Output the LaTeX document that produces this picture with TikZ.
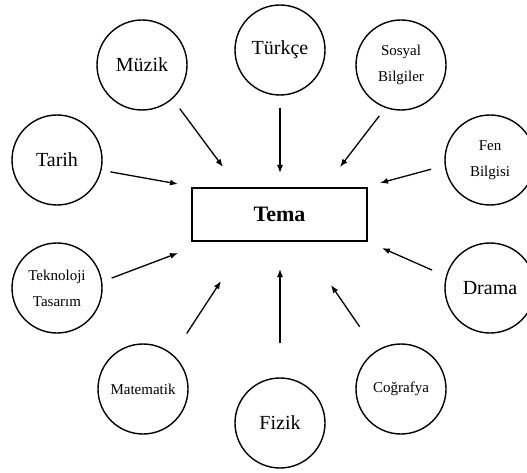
\documentclass[tikz,border=0pt]{standalone}
\usepackage{fontspec}
\setmainfont{Liberation Serif}
\usetikzlibrary{arrows.meta}

\tikzset{
  topic/.style={circle, draw, line width=1.4pt, minimum size=90pt, inner sep=0pt, align=center},
  bigtext/.style={font=\fontsize{20}{24}\selectfont},
  smalltext/.style={font=\fontsize{15}{26}\selectfont},
  link/.style={-{Latex[length=8pt,width=6pt]}, line width=1.3pt},
}

\begin{document}
\begin{tikzpicture}[x=1pt,y=-1pt]
            \useasboundingbox (0,0) rectangle (527,473);

            % Define the central theme box
            \node[draw, line width=2.5pt, minimum width=175pt, minimum height=53pt,
                  font=\fontsize{22}{26}\selectfont\bfseries] (tema) at (279.5,214.5) {Tema};

            % Define the subject circles
            \node[topic, bigtext]   (muzik)     at (142,65)  {Müzik};
            \node[topic, bigtext]   (turkce)    at (280,50)  {Türkçe};
            \node[topic, smalltext] (sosyal)    at (401,65)  {Sosyal\\Bilgiler};
            \node[topic, bigtext]   (tarih)     at (57,160)  {Tarih};
            \node[topic, smalltext] (fen)       at (490,160) {Fen\\Bilgisi};
            \node[topic, smalltext] (teknoloji) at (57,288)  {Teknoloji\\Tasarım};
            \node[topic, bigtext]   (drama)     at (490,288) {Drama};
            \node[topic, smalltext] (matematik) at (143,389) {Matematik};
            \node[topic, bigtext]   (fizik)     at (280,423) {Fizik};
            \node[topic, smalltext] (cografya)  at (401,389) {Coğrafya};

            % Define the arrow tips around the box
            \coordinate (in-tarih)     at (178,184);
            \coordinate (in-muzik)     at (223,167);
            \coordinate (in-turkce)    at (280,173);
            \coordinate (in-sosyal)    at (340,167);
            \coordinate (in-fen)       at (380,183);
            \coordinate (in-teknoloji) at (178,253);
            \coordinate (in-matematik) at (221,281);
            \coordinate (in-fizik)     at (280,269);
            \coordinate (in-cografya)  at (331,285);
            \coordinate (in-drama)     at (382,248);

            % Add the arrows pointing to the theme
            \draw[link, shorten <=9pt]  (tarih.347) -- (in-tarih);
            \draw[link, shorten <=12pt] (muzik.312) -- (in-muzik);
            \draw[link, shorten <=12pt] (turkce.270) -- (in-turkce);
            \draw[link, shorten <=10pt] (sosyal.250) -- (in-sosyal);
            \draw[link, shorten <=14pt] (fen.187) -- (in-fen);
            \draw[link, shorten <=10pt] (teknoloji.8) -- (in-teknoloji);
            \draw[link, shorten <=25pt] (matematik.49) -- (in-matematik);
            \draw[link, shorten <=34pt] (fizik.90) -- (in-fizik);
            \draw[link, shorten <=29pt] (cografya.123) -- (in-cografya);
            \draw[link, shorten <=15pt] (drama.165) -- (in-drama);

        \end{tikzpicture}
\end{document}
